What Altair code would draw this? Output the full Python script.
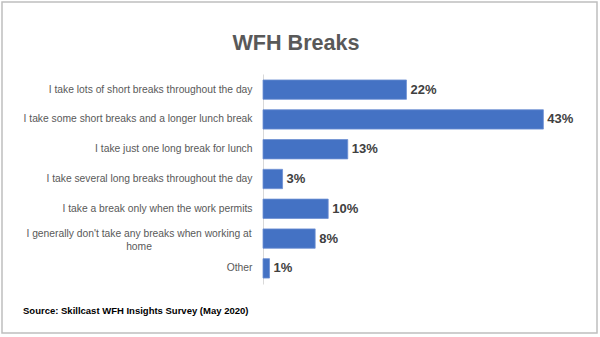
import altair as alt
import pandas as pd

categories = [
    "I take lots of short breaks throughout the day",
    "I take some short breaks and a longer lunch break",
    "I take just one long break for lunch",
    "I take several long breaks throughout the day",
    "I take a break only when the work permits",
    "I generally don't take any breaks when working at home",
    "Other",
]
wrapped_category = "I generally don't take any breaks when working at home"
wrapped_lines = "I generally don't take any breaks when working at|home"
values = [22, 43, 13, 3, 10, 8, 1]
value_labels = ["22%", "43%", "13%", "3%", "10%", "8%", "1%"]

title_text = "WFH Breaks"
source_text = "Source: Skillcast WFH Insights Survey (May 2020)"

df = pd.DataFrame({"cat": categories, "val": values, "lab": value_labels})

W, H = 326, 210
PAD_L, PAD_T = 263, 74
LABEL_FONT = "Liberation Sans"
LABEL_SIZE = 10.3

y_scale = alt.Scale(paddingInner=0.35, paddingOuter=0.2)

y_enc = alt.Y(
    "cat:N",
    sort=categories,
    title=None,
    scale=y_scale,
    axis=alt.Axis(
        labelExpr=f"datum.label == \"{wrapped_category}\" ? '' : datum.label",
        labelFont=LABEL_FONT,
        labelFontSize=LABEL_SIZE,
        labelColor="#595959",
        labelPadding=11,
        ticks=False,
        domainColor="#d9d9d9",
        labelLimit=300,
    ),
)

x_enc = alt.X("val:Q", scale=alt.Scale(domain=[0, 50]), axis=None)

bars = alt.Chart(df).mark_bar(color="#4472C4", stroke="#6d8fd3", strokeWidth=0.8).encode(
    x=x_enc, y=y_enc
)

labels = alt.Chart(df).mark_text(
    align="left", baseline="middle", dx=4, font=LABEL_FONT,
    fontSize=13, fontWeight="bold", color="#404040"
).encode(x=x_enc, y=alt.Y("cat:N", sort=categories), text="lab:N")

wrap_df = pd.DataFrame({"cat": [wrapped_category], "t": [wrapped_lines]})
wrap_label = alt.Chart(wrap_df).mark_text(
    align="center", baseline="middle", font=LABEL_FONT, fontSize=LABEL_SIZE,
    color="#595959", lineBreak="|", lineHeight=13, dy=-5
).encode(x=alt.value(139 - PAD_L), y=alt.Y("cat:N", sort=categories), text="t:N")

title_df = pd.DataFrame({"t": [title_text]})
title = alt.Chart(title_df).mark_text(
    align="center", baseline="alphabetic", font=LABEL_FONT,
    fontSize=21.6, fontWeight="bold", color="#595959"
).encode(x=alt.value(296 - PAD_L), y=alt.value(50 - PAD_T), text="t:N")

src_df = pd.DataFrame({"t": [source_text]})
source = alt.Chart(src_df).mark_text(
    align="left", baseline="middle", font=LABEL_FONT,
    fontSize=9.5, fontWeight="bold", color="#000000"
).encode(x=alt.value(23 - PAD_L), y=alt.value(311 - PAD_T), text="t:N")

border = alt.Chart(title_df).mark_rect(
    fill=None, stroke="#bfbfbf", strokeWidth=1.5, clip=False
).encode(
    x=alt.value(2 - PAD_L), x2=alt.value(597 - PAD_L),
    y=alt.value(2 - PAD_T), y2=alt.value(333 - PAD_T),
)

chart = alt.layer(border, bars, labels, wrap_label, title, source).properties(
    width=W, height=H,
    autosize=alt.AutoSizeParams(type="none"),
    padding={"left": PAD_L, "top": PAD_T, "right": 600 - PAD_L - W, "bottom": 337 - PAD_T - H},
    background="white",
).configure_view(stroke=None)

chart.save("out.html", embed_options={"renderer": "svg", "actions": False})
